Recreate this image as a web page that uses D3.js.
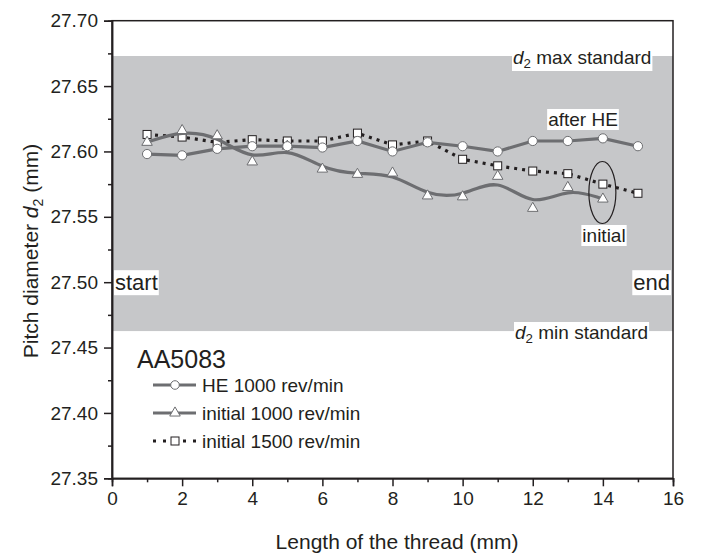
<!DOCTYPE html>
<html>
<head>
<meta charset="utf-8">
<script src="https://cdn.jsdelivr.net/npm/d3@7"></script>
<style>
body{margin:0;background:#fff;}
text{font-family:"Liberation Sans",Arial,sans-serif;fill:#231f20;}
</style>
</head>
<body>
<div id="idChart"></div>
<script>
// thread positions (mm)
var aLength=[1,2,3,4,5,6,7,8,9,10,11,12,13,14,15];
var aHE1000=[27.598,27.597,27.602,27.604,27.604,27.603,27.608,27.600,27.607,27.604,27.600,27.608,27.608,27.610,27.604];
var aInit1000=[27.607,27.616,27.612,27.592,27.604,27.5865,27.5825,27.5835,27.566,27.5653,27.581,27.5565,27.5725,27.5636];
var aInit1500=[27.613,27.611,27.607,27.609,27.608,27.608,27.614,27.605,27.608,27.594,27.589,27.585,27.583,27.575,27.568];
var aXTicks=[0,2,4,6,8,10,12,14,16];
var aYTicks=[27.35,27.40,27.45,27.50,27.55,27.60,27.65,27.70];
var fMaxStd=27.673;
var fMinStd=27.4626;
var aLegend=["HE 1000 rev/min","initial 1000 rev/min","initial 1500 rev/min"];

var iWidth=701, iHeight=559;
var sGrey="#6d6e71", sBand="#c6c7c9", sInk="#231f20";

var mySvg=d3.select("#idChart").append("svg")
	.attr("width",iWidth).attr("height",iHeight);

var xAxes=d3.scaleLinear().domain([0,16]).range([112,673]);
var yAxes=d3.scaleLinear().domain([27.35,27.70]).range([478.3,20.7]);

// tolerance band
mySvg.append("rect")
	.attr("x",xAxes(0)).attr("width",xAxes(16)-xAxes(0))
	.attr("y",yAxes(fMaxStd)).attr("height",yAxes(fMinStd)-yAxes(fMaxStd))
	.attr("fill",sBand);

// frame
mySvg.append("rect")
	.attr("x",xAxes(0)).attr("y",yAxes(27.70))
	.attr("width",xAxes(16)-xAxes(0)).attr("height",yAxes(27.35)-yAxes(27.70))
	.attr("fill","none").attr("stroke",sInk).attr("stroke-width",1.5);

// axes
var xAxis=d3.axisBottom(xAxes).tickValues(aXTicks).tickSize(8).tickPadding(5).tickFormat(d3.format("d"));
mySvg.append("g").attr("transform","translate(0,"+yAxes(27.35)+")").call(xAxis);
var xMinor=d3.axisBottom(xAxes).tickValues(d3.range(1,16,2)).tickSize(4).tickFormat("");
mySvg.append("g").attr("transform","translate(0,"+yAxes(27.35)+")").call(xMinor);

var yAxis=d3.axisLeft(yAxes).tickValues(aYTicks).tickSize(8).tickPadding(6).tickFormat(d3.format(".2f"));
mySvg.append("g").attr("transform","translate("+xAxes(0)+",0)").call(yAxis);
var yMinor=d3.axisLeft(yAxes).tickValues(d3.range(27.375,27.70,0.05)).tickSize(4).tickFormat("");
mySvg.append("g").attr("transform","translate("+xAxes(0)+",0)").call(yMinor);

mySvg.selectAll(".domain").attr("stroke",sInk).attr("stroke-width",1.5);
mySvg.selectAll(".tick line").attr("stroke",sInk).attr("stroke-width",1.5);
mySvg.selectAll(".tick text").attr("font-size",19).attr("fill",sInk)
	.style("font-family","'Liberation Sans',Arial,sans-serif");

// axis titles
mySvg.append("text")
	.attr("x",397).attr("y",549).attr("text-anchor","middle").attr("font-size",21)
	.text("Length of the thread (mm)");

var yTitle=mySvg.append("text")
	.attr("transform","translate(38,251) rotate(-90)")
	.attr("text-anchor","middle").attr("font-size",21);
yTitle.append("tspan").text("Pitch diameter ");
yTitle.append("tspan").attr("font-style","italic").text("d");
yTitle.append("tspan").attr("font-size",14).attr("dy",5).text("2");
yTitle.append("tspan").attr("dy",-5).text(" (mm)");

// labels with white backgrounds
function AddLabel(x,y,sAnchor,aParts,iSize)
{
	var myG=mySvg.append("g");
	var myRect=myG.append("rect").attr("fill","#fff");
	var myText=myG.append("text").attr("x",x).attr("y",y).attr("text-anchor",sAnchor).attr("font-size",iSize);
	aParts.forEach(function(p){
		var t=myText.append("tspan").text(p.t);
		if(p.i) t.attr("font-style","italic");
		if(p.sub) t.attr("font-size",iSize*0.7).attr("dy",4);
		if(p.up) t.attr("dy",-4);
	});
	var b=myText.node().getBBox();
	myRect.attr("x",b.x-1).attr("y",b.y).attr("width",b.width+2).attr("height",b.height);
	return myG;
}

// initial 1500 (dotted)
var lineLin=d3.line().x(function(d,i){return xAxes(aLength[i]);}).y(function(d){return yAxes(d);});
mySvg.append("path").datum(aInit1500).attr("d",lineLin)
	.attr("fill","none").attr("stroke",sInk).attr("stroke-width",3.2).attr("stroke-dasharray","3,5");
mySvg.selectAll(".sq").data(aInit1500).enter().append("rect")
	.attr("x",function(d,i){return xAxes(aLength[i])-4;}).attr("y",function(d){return yAxes(d)-4;})
	.attr("width",8).attr("height",8).attr("fill","#fff").attr("stroke",sInk).attr("stroke-width",1);

// initial 1000 (smooth)
var lineBasis=d3.line().curve(d3.curveBasis).x(function(d,i){return xAxes(aLength[i]);}).y(function(d){return yAxes(d);});
mySvg.append("path").datum(aInit1000).attr("d",lineBasis)
	.attr("fill","none").attr("stroke",sGrey).attr("stroke-width",3.2);
var triSym=d3.symbol().type(d3.symbolTriangle).size(48);
mySvg.selectAll(".tri").data(aInit1000).enter().append("path")
	.attr("d",triSym)
	.attr("transform",function(d,i){return "translate("+xAxes(aLength[i])+","+yAxes(d)+")";})
	.attr("fill","#fff").attr("stroke",sGrey).attr("stroke-width",1);

// HE 1000
mySvg.append("path").datum(aHE1000).attr("d",lineLin)
	.attr("fill","none").attr("stroke",sGrey).attr("stroke-width",3.2);
mySvg.selectAll(".circ").data(aHE1000).enter().append("circle")
	.attr("cx",function(d,i){return xAxes(aLength[i]);}).attr("cy",function(d){return yAxes(d);})
	.attr("r",4.6).attr("fill","#fff").attr("stroke",sGrey).attr("stroke-width",1);

// ellipse around the initial points at 14 mm
mySvg.append("ellipse")
	.attr("cx",xAxes(14)-0.5).attr("cy",yAxes(27.5686))
	.attr("rx",xAxes(0.385)-xAxes(0)).attr("ry",yAxes(27.35)-yAxes(27.3737))
	.attr("fill","none").attr("stroke",sInk).attr("stroke-width",1.2);

// annotations
AddLabel(513,64,"start",[{t:"d",i:true},{t:"2",sub:true},{t:" max standard",up:true}],19);
AddLabel(515,339,"start",[{t:"d",i:true},{t:"2",sub:true},{t:" min standard",up:true}],19);
AddLabel(583,126,"middle",[{t:"after HE"}],19);
AddLabel(604,242,"middle",[{t:"initial"}],19);
AddLabel(xAxes(0)+3,yAxes(27.50)+8,"start",[{t:"start"}],22);
AddLabel(xAxes(16)-3,yAxes(27.50)+8,"end",[{t:"end"}],22);

// legend
mySvg.append("text").attr("x",137).attr("y",368).attr("font-size",25).text("AA5083");
var aLegY=[385,413,441];
var myLeg=mySvg.selectAll(".leg").data(aLegend).enter().append("g")
	.attr("transform",function(d,i){return "translate(0,"+aLegY[i]+")";});
myLeg.append("text").attr("x",202).attr("y",7).attr("font-size",19).text(function(d){return d;});

myLeg.filter(function(d,i){return i<2;}).append("line")
	.attr("x1",153).attr("x2",196).attr("y1",0).attr("y2",0)
	.attr("stroke",sGrey).attr("stroke-width",3.2);
myLeg.filter(function(d,i){return i==0;}).append("circle")
	.attr("cx",175).attr("cy",0).attr("r",4.3).attr("fill","#fff").attr("stroke",sGrey);
myLeg.filter(function(d,i){return i==1;}).append("path")
	.attr("d",triSym).attr("transform","translate(175,0)")
	.attr("fill","#fff").attr("stroke",sGrey);
myLeg.filter(function(d,i){return i==2;}).append("line")
	.attr("x1",153).attr("x2",200).attr("y1",0).attr("y2",0)
	.attr("stroke",sInk).attr("stroke-width",3.2).attr("stroke-dasharray","3,7");
myLeg.filter(function(d,i){return i==2;}).append("rect")
	.attr("x",171).attr("y",-4).attr("width",8).attr("height",8)
	.attr("fill","#fff").attr("stroke",sInk);
</script>
</body>
</html>
